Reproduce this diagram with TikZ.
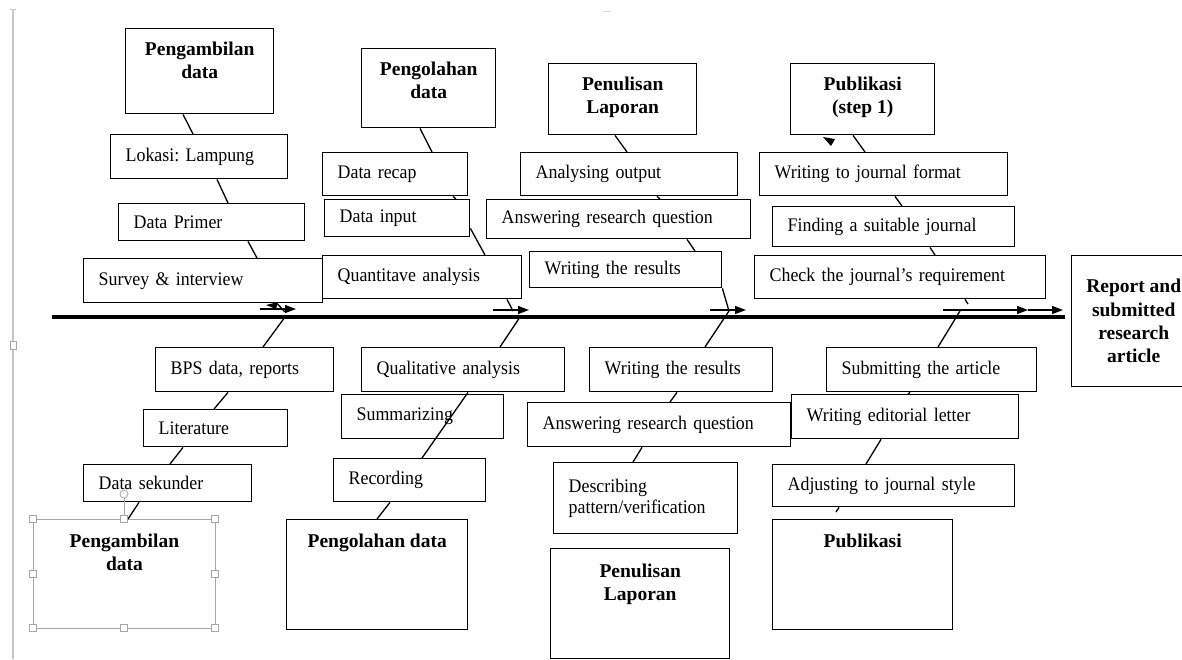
\documentclass[tikz,border=0pt]{standalone}
\usepackage{fontspec}
\setmainfont{Liberation Serif}
\newfontfamily\bodyfont[FakeStretch=0.93]{Liberation Serif}
\usetikzlibrary{arrows.meta}
\frenchspacing
\protected\def\bodyset{\bodyfont\fontsize{19.2}{20.5}\selectfont\frenchspacing\spaceskip=3.4pt plus 1pt minus 0.5pt\relax}
\tikzset{
 bx/.style={draw, line width=1.4pt, inner xsep=15pt, inner ysep=0pt, align=left, font=\bodyset},
 hbox/.style={draw, line width=1.4pt, inner sep=0pt},
 selbox/.style={draw=gray!70, line width=0.9pt, inner sep=0pt},
 hd/.style={inner sep=0pt, font=\fontsize{19.5}{23.3}\selectfont\bfseries},
 cn/.style={line width=1.3pt},
 spine/.style={line width=4pt},
 arr/.style={line width=1.3pt, -{Triangle[length=11pt,width=8pt]}},
 handle/.style={draw=gray!70, fill=white, line width=0.8pt},
}
\newcommand\bx[6]{%
  \pgfmathsetmacro\bxw{#4-#2}\pgfmathsetmacro\bxh{#5-#3}\pgfmathsetmacro\bxt{#4-#2-30}%
  \node[bx, minimum width=\bxw pt, minimum height=\bxh pt, text width=\bxt pt, anchor=north west] (#1) at (#2,#3) {#6};}
\newcommand\hb[5]{%
  \pgfmathsetmacro\bxw{#4-#2}\pgfmathsetmacro\bxh{#5-#3}%
  \node[hbox, minimum width=\bxw pt, minimum height=\bxh pt, anchor=north west] (#1) at (#2,#3) {};}
\begin{document}
\begin{tikzpicture}[x=1pt,y=-1pt]
\useasboundingbox (0,0) rectangle (1182,659);
\clip (0,0) rectangle (1182,659);
\fill[white] (0,0) rectangle (1182,659);

% page artefacts
\draw[gray!45, line width=1.2pt] (13,9) -- (13,659);
\draw[gray!45, line width=1pt] (10,9) -- (16,9);
\draw[handle] (10,341) rectangle (16,349);
\draw[gray!30, line width=1pt] (603,11) -- (611,11);

% spine
\coordinate (spL) at (52,317);
\coordinate (spR) at (1065,317);
\draw[spine] (spL) -- (spR);

% ---- top column 1
\hb{pa}{125}{28}{273}{113}
\node[hd,anchor=base] (pa-1) at ([yshift=-27pt]pa.north) {Pengambilan};
\node[hd,anchor=base] (pa-2) at ([yshift=-50.3pt]pa.north) {data};
\bx{lok}{110}{134}{287}{178}{Lokasi: Lampung}
\bx{dp}{118}{203}{304}{240}{Data Primer}
\bx{sv}{83}{258}{322}{302}{Survey \& interview}

% ---- top column 2
\hb{po}{361}{48}{495}{127}
\node[hd,anchor=base] (po-1) at ([yshift=-27pt]po.north) {Pengolahan};
\node[hd,anchor=base] (po-2) at ([yshift=-50.3pt]po.north) {data};
\bx{drc}{322}{152}{467}{195}{Data recap}
\bx{din}{324}{199}{469}{236}{Data input}
\bx{qa}{322}{255}{521}{298}{Quantitave analysis}

% ---- top column 3
\hb{pl}{548}{63}{696}{134}
\node[hd,anchor=base] (pl-1) at ([yshift=-27pt]pl.north) {Penulisan};
\node[hd,anchor=base] (pl-2) at ([yshift=-50.3pt]pl.north) {Laporan};
\bx{ao}{520}{152}{737}{195}{Analysing output}
\bx{arq}{486}{199}{750}{238}{Answering research question}
\bx{wr}{529}{251}{721}{287}{Writing the results}

% ---- top column 4
\hb{pub}{790}{63}{934}{134}
\node[hd,anchor=base] (pub-1) at ([yshift=-27pt]pub.north) {Publikasi};
\node[hd,anchor=base] (pub-2) at ([yshift=-50.3pt]pub.north) {(step 1)};
\bx{wjf}{759}{152}{1007}{195}{Writing to journal format}
\bx{fsj}{772}{206}{1014}{246}{Finding a suitable journal}
\bx{cjr}{754}{255}{1045}{298}{Check the journal’s requirement}

% ---- result
\node[hbox, minimum width=124pt, minimum height=131pt, anchor=north west, align=center,
      font=\fontsize{19.5}{23.3}\selectfont\bfseries] (rep) at (1071,255)
      {Report and\\submitted\\research\\article};

% ---- bottom column 1
\bx{bps}{155}{347}{333}{391}{BPS data, reports}
\bx{lit}{143}{409}{287}{446}{Literature}
\bx{ds}{83}{464}{251}{501}{Data sekunder}
\node[selbox, minimum width=182pt, minimum height=109pt, anchor=north west] (pab) at (33,519) {};
\node[hd,anchor=base] (pab-1) at ([yshift=-28pt]pab.north) {Pengambilan};
\node[hd,anchor=base] (pab-2) at ([yshift=-51.3pt]pab.north) {data};

% ---- bottom column 2
\bx{qla}{361}{347}{564}{391}{Qualitative analysis}
\bx{sum}{341}{394}{503}{438}{Summarizing}
\bx{rec}{333}{458}{485}{501}{Recording}
\hb{pob}{286}{519}{467}{629}
\node[hd,anchor=base] (pob-1) at ([yshift=-28pt]pob.north) {Pengolahan data};

% ---- bottom column 3
\bx{wrb}{589}{347}{772}{391}{Writing the results}
\bx{arqb}{527}{402}{790}{446}{Answering research question}
\bx{dpv}{553}{462}{737}{533}{Describing\\pattern/verification}
\hb{plb}{550}{548}{729}{658}
\node[hd,anchor=base] (plb-1) at ([yshift=-29pt]plb.north) {Penulisan};
\node[hd,anchor=base] (plb-2) at ([yshift=-52.3pt]plb.north) {Laporan};

% ---- bottom column 4
\bx{sta}{826}{347}{1036}{391}{Submitting the article}
\bx{wel}{791}{394}{1018}{438}{Writing editorial letter}
\bx{ajs}{772}{464}{1014}{506}{Adjusting to journal style}
\hb{pubb}{772}{519}{952}{629}
\node[hd,anchor=base] (pubb-1) at ([yshift=-28pt]pubb.north) {Publikasi};

% ---- junction coordinates
\coordinate (j1) at (285,312);
\coordinate (j1b) at (285,317);
\coordinate (j2) at (513,311);
\coordinate (j2b) at (520,317);
\coordinate (j3) at (729,311);
\coordinate (j4a) at (968,304);
\coordinate (j4) at (960,311);
\coordinate (j5) at (836,512);

% ---- connectors column 1
\draw[cn] ([xshift=58pt]pa.south west) -- ([xshift=83pt]lok.north west);
\draw[cn] ([xshift=107pt]lok.south west) -- ([xshift=110pt]dp.north west);
\draw[cn] ([xshift=130pt]dp.south west) -- ([xshift=174pt]sv.north west);
\draw[cn] ([xshift=194pt]sv.south west) -- (j1);
\draw[cn] (j1b) -- ([xshift=108pt]bps.north west);
\draw[cn] ([xshift=73pt]bps.south west) -- ([xshift=71pt]lit.north west);
\draw[cn] ([xshift=40pt]lit.south west) -- ([xshift=87pt]ds.north west);
\draw[cn] ([xshift=56pt]ds.south west) -- ([xshift=95pt]pab.north west);

% ---- connectors column 2
\draw[cn] ([xshift=59pt]po.south west) -- ([xshift=110pt]drc.north west);
\draw[cn] ([xshift=131pt]drc.south west) -- ([xshift=132pt]din.north west);
\draw[cn] ([yshift=9pt]din.south east) -- ([xshift=163pt]qa.north west);
\draw[cn] ([xshift=185pt]qa.south west) -- (j2);
\draw[cn] (j2b) -- ([xshift=139pt]qla.north west);
\draw[cn] ([xshift=107pt]qla.south west) -- ([xshift=89pt]rec.north west);
\draw[cn] ([xshift=57pt]rec.south west) -- ([xshift=91pt]pob.north west);

% ---- connectors column 3
\draw[cn] ([xshift=67pt]pl.south west) -- ([xshift=107pt]ao.north west);
\draw[cn] ([xshift=137pt]ao.south west) -- ([xshift=174pt]arq.north west);
\draw[cn] ([xshift=201pt]arq.south west) -- ([xshift=166pt]wr.north west);
\draw[cn] (wr.south east) -- (j3) -- ([xshift=116pt]wrb.north west);
\draw[cn] ([xshift=88pt]wrb.south west) -- ([xshift=143pt]arqb.north west);
\draw[cn] ([xshift=115pt]arqb.south west) -- ([xshift=80pt]dpv.north west);

% ---- connectors column 4
\draw[cn] ([xshift=63pt]pub.south west) -- ([xshift=106pt]wjf.north west);
\draw[cn] ([xshift=136pt]wjf.south west) -- ([xshift=130pt]fsj.north west);
\draw[cn] ([xshift=158pt]fsj.south west) -- ([xshift=181pt]cjr.north west);
\draw[cn] ([xshift=211pt]cjr.south west) -- (j4a);
\draw[cn] (j4) -- ([xshift=112pt]sta.north west);
\draw[cn] ([xshift=84pt]sta.south west) -- ([xshift=117pt]wel.north west);
\draw[cn] ([xshift=90pt]wel.south west) -- ([xshift=94pt]ajs.north west);
\draw[cn] ([xshift=67pt]ajs.south west) -- (j5);

% ---- small arrows on the spine
\coordinate (a1s) at (260,309); \coordinate (a1e) at (296,309);
\coordinate (a2s) at (493,310); \coordinate (a2e) at (529,310);
\coordinate (a3s) at (710,310); \coordinate (a3e) at (746,310);
\coordinate (a4s) at (943,310); \coordinate (a4m) at (1028,310); \coordinate (a4e) at (1063,310);
\draw[arr] (a1s) -- (a1e);
\draw[arr] (a2s) -- (a2e);
\draw[arr] (a3s) -- (a3e);
\draw[arr] (a4s) -- (a4m);
\draw[arr] (a4m) -- (a4e);

% stray arrowheads
\fill (266,305) -- (278,302) -- (276,309) -- cycle;
\fill (823,137) -- (835,139) -- (831,146) -- cycle;

% selection handles
\draw[gray!70, line width=0.8pt] (124,498) -- (124,515.5);
\draw[gray!70, line width=0.8pt] (124,494) circle (4);
\foreach \p in {(33,519),(124,519),(215,519),(33,573.5),(215,573.5),(33,628),(124,628),(215,628)}
  \draw[handle] \p ++(-3.5,-3.5) rectangle ++(7,7);
\end{tikzpicture}
\end{document}
